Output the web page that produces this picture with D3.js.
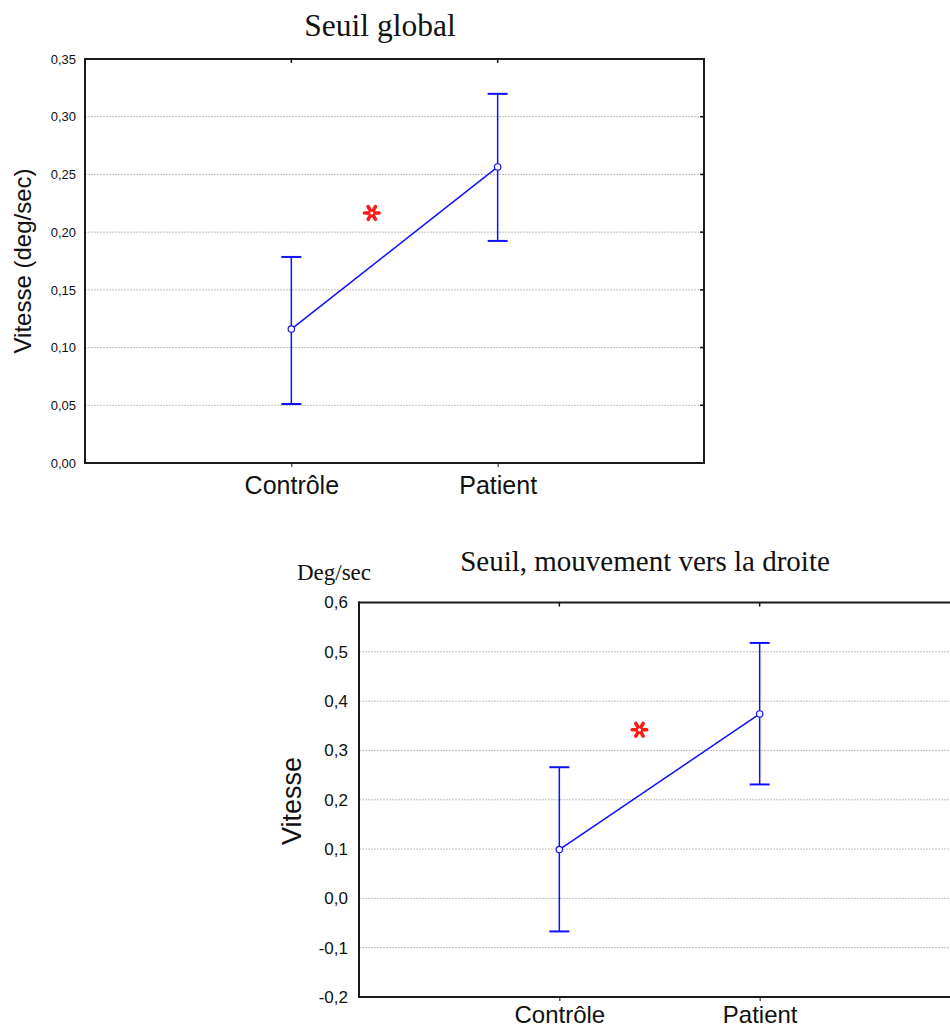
<!DOCTYPE html>
<html><head><meta charset="utf-8">
<script src="https://cdn.jsdelivr.net/npm/d3@7"></script>
<style>body{margin:0;background:#fff;} svg{display:block;}</style>
</head><body>
<svg id="c" width="950" height="1029"></svg>
<script>
const categories = ["Contrôle", "Patient"];
// Chart 1: Seuil global
const globalMean  = [0.116, 0.2565];
const globalUpper = [0.1785, 0.3198];
const globalLower = [0.0511, 0.1924];
const globalTicks = [0, 0.05, 0.10, 0.15, 0.20, 0.25, 0.30, 0.35];
// Chart 2: Seuil, mouvement vers la droite
const rightMean  = [0.099, 0.374];
const rightUpper = [0.266, 0.518];
const rightLower = [-0.067, 0.231];
const rightTicks = [-0.2, -0.1, 0, 0.1, 0.2, 0.3, 0.4, 0.5, 0.6];
const starPos = [1.39, 1.4];
const starY = [0.2166, 0.342];

const fr = d3.formatLocale({decimal: ",", thousands: " ", grouping: [3], currency: ["", "€"], minus: "-"});
const svg = d3.select("#c");
const blue = "#1010ff";

function drawChart(o) {
  const g = svg.append("g");
  const x = d3.scaleLinear().domain([0, 3]).range([o.left, o.right]);
  const y = d3.scaleLinear().domain(o.domain).range([o.bottom, o.top]);
  const fmt = fr.format(o.fmt);
  const inner = o.ticks.filter(t => t > o.domain[0] && t < o.domain[1]);
  // gridlines
  g.selectAll(".grid").data(inner)
    .enter().append("line")
    .attr("x1", o.left).attr("x2", Math.min(o.right, 950))
    .attr("y1", d => y(d)).attr("y2", d => y(d))
    .attr("stroke", "#bdbdbd").attr("stroke-width", 1).attr("stroke-dasharray", "2,1");
  // left axis
  const ya = d3.axisLeft(y).tickValues(o.ticks).tickFormat(fmt).tickSize(0).tickPadding(o.tickPad);
  const ga = g.append("g").attr("transform", `translate(${o.left},0)`).call(ya);
  ga.select(".domain").remove();
  ga.selectAll("text").attr("font-family", "Liberation Sans, Arial, sans-serif")
    .attr("font-size", o.tickFont).attr("fill", "#111");
  // bottom axis ticks
  const xa = d3.axisBottom(x).tickValues([1, 2]).tickFormat((d, i) => categories[i]).tickSize(4).tickPadding(o.catPad);
  const gx = g.append("g").attr("transform", `translate(0,${o.bottom})`).call(xa);
  gx.select(".domain").remove();
  gx.selectAll("line").attr("stroke", "#111");
  gx.selectAll("text").attr("font-family", "Liberation Sans, Arial, sans-serif")
    .attr("font-size", o.catFont).attr("fill", "#111");
  // top inner ticks
  g.selectAll(".tt").data([1, 2]).enter().append("line")
    .attr("x1", d => x(d)).attr("x2", d => x(d)).attr("y1", o.top).attr("y2", o.top + 4)
    .attr("stroke", "#111").attr("stroke-width", 1.5);
  // frame
  const fc = "#1a1a1a", fw = 2;
  g.append("line").attr("x1", o.left).attr("x2", o.left).attr("y1", o.top - 1).attr("y2", o.bottom + 1).attr("stroke", fc).attr("stroke-width", fw);
  g.append("line").attr("x1", o.left - 1).attr("x2", o.right + 1).attr("y1", o.top).attr("y2", o.top).attr("stroke", fc).attr("stroke-width", fw);
  g.append("line").attr("x1", o.left - 1).attr("x2", o.right + 1).attr("y1", o.bottom).attr("y2", o.bottom).attr("stroke", fc).attr("stroke-width", fw);
  g.append("line").attr("x1", o.right).attr("x2", o.right).attr("y1", o.top - 1).attr("y2", o.bottom + 1).attr("stroke", fc).attr("stroke-width", fw);
  // right inner ticks
  g.selectAll(".rt").data(inner).enter().append("line")
    .attr("x1", o.right - 4).attr("x2", o.right).attr("y1", d => y(d)).attr("y2", d => y(d))
    .attr("stroke", "#111").attr("stroke-width", 1.5);
  // error bars
  [0, 1].forEach(i => {
    const cx = x(i + 1);
    g.append("line").attr("x1", cx).attr("x2", cx).attr("y1", y(o.upper[i])).attr("y2", y(o.lower[i]))
      .attr("stroke", blue).attr("stroke-width", 1.5);
    [o.upper[i], o.lower[i]].forEach(v => {
      g.append("line").attr("x1", cx - 10).attr("x2", cx + 10).attr("y1", y(v)).attr("y2", y(v))
        .attr("stroke", blue).attr("stroke-width", 2);
    });
  });
  // mean line
  g.append("path").datum(o.mean)
    .attr("d", d3.line().x((d, i) => x(i + 1)).y(d => y(d)))
    .attr("fill", "none").attr("stroke", blue).attr("stroke-width", 1.5);
  g.selectAll(".pt").data(o.mean).enter().append("circle")
    .attr("cx", (d, i) => x(i + 1)).attr("cy", d => y(d)).attr("r", 3.2)
    .attr("fill", "#fff").attr("stroke", blue).attr("stroke-width", 1.2);
  // asterisk
  g.append("path")
    .attr("transform", `translate(${x(o.starX)},${y(o.starY)}) rotate(90)`)
    .attr("d", d3.symbol(d3.symbolAsterisk, 150)())
    .attr("fill", "none").attr("stroke", "#ff1a1a").attr("stroke-width", 3.6).attr("stroke-linecap", "round");
  g.append("circle").attr("cx", x(o.starX)).attr("cy", y(o.starY)).attr("r", 1.6).attr("fill", "#fff");
  // title
  g.append("text").attr("x", o.titleX).attr("y", o.titleY).attr("text-anchor", "middle")
    .attr("font-family", "Liberation Serif, Times New Roman, serif").attr("font-size", o.titleFont)
    .attr("fill", "#111").text(o.title);
  // y label
  g.append("text").attr("transform", `translate(${o.ylabX},${o.ylabY}) rotate(-90)`)
    .attr("text-anchor", "middle")
    .attr("font-family", "Liberation Sans, Arial, sans-serif").attr("font-size", o.ylabFont)
    .attr("fill", "#111").text(o.ylab);
  return {x, y, g};
}

drawChart({
  left: 85, right: 704, top: 59, bottom: 463, domain: [0, 0.35], ticks: globalTicks, fmt: ".2f",
  tickFont: 13, tickPad: 9, catFont: 25, catPad: 9,
  mean: globalMean, upper: globalUpper, lower: globalLower,
  starX: starPos[0], starY: starY[0],
  title: "Seuil global", titleX: 380, titleY: 36, titleFont: 31.5,
  ylab: "Vitesse (deg/sec)", ylabX: 31, ylabY: 261, ylabFont: 24
});
const c2 = drawChart({
  left: 359, right: 960, top: 602.5, bottom: 997, domain: [-0.2, 0.6], ticks: rightTicks, fmt: ".1f",
  tickFont: 17, tickPad: 11, catFont: 24, catPad: 5,
  mean: rightMean, upper: rightUpper, lower: rightLower,
  starX: starPos[1], starY: starY[1],
  title: "Seuil, mouvement vers la droite", titleX: 645, titleY: 571, titleFont: 29,
  ylab: "Vitesse", ylabX: 301, ylabY: 801, ylabFont: 27
});
c2.g.append("text").attr("x", 334).attr("y", 580).attr("text-anchor", "middle")
  .attr("font-family", "Liberation Serif, Times New Roman, serif").attr("font-size", 23)
  .attr("fill", "#111").text("Deg/sec");
</script>
</body></html>
